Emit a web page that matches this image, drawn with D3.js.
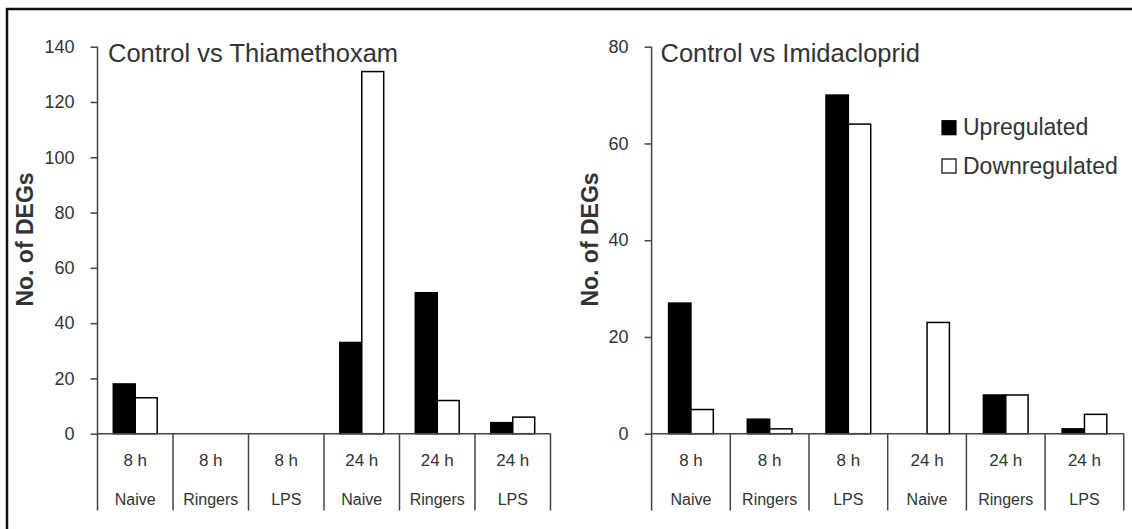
<!DOCTYPE html>
<html><head><meta charset="utf-8">
<script src="https://cdn.jsdelivr.net/npm/d3@7"></script>
<style>
html,body{margin:0;padding:0;background:#fff;}
svg{display:block;}
text{font-family:"Liberation Sans",Arial,sans-serif;fill:#333;}
</style></head>
<body>
<svg id="c" width="1132" height="529"></svg>
<script>
const timeLabels = ["8 h","8 h","8 h","24 h","24 h","24 h"];
const treatmentLabels = ["Naive","Ringers","LPS","Naive","Ringers","LPS"];
const thiaUp = [18,0,0,33,51,4];
const thiaDown = [13,0,0,131,12,6];
const imidaUp = [27,3,70,0,8,1];
const imidaDown = [5,1,64,23,8,4];
const thiaTicks = [0,20,40,60,80,100,120,140];
const imidaTicks = [0,20,40,60,80];
const seriesNames = ["Upregulated","Downregulated"];
const seriesFill = ["#000","#fff"];

const svg = d3.select("#c");
// outer frame (top and left edges visible)
svg.append("line").attr("x1",6).attr("x2",1132).attr("y1",9).attr("y2",9).attr("stroke","#111").attr("stroke-width",2.5);
svg.append("line").attr("x1",7).attr("x2",7).attr("y1",8).attr("y2",529).attr("stroke","#111").attr("stroke-width",2.5);

function panel(opt){
  const g = svg.append("g");
  const x = d3.scaleBand().domain(d3.range(timeLabels.length)).range([opt.x0,opt.x1]).paddingInner(0).paddingOuter(0);
  const inner = d3.scaleBand().domain([0,1]).range([0,x.bandwidth()]).paddingOuter(opt.pad).paddingInner(0);
  const y = d3.scaleLinear().domain([0,opt.max]).range([433.7,46.7]);
  const axisCol = "#444";
  // y axis
  const ya = g.append("g").attr("transform",`translate(${opt.x0},0)`)
    .call(d3.axisLeft(y).tickValues(opt.ticks).tickSize(7).tickPadding(16).tickSizeOuter(0));
  ya.select(".domain").remove();
  ya.selectAll(".tick line").attr("stroke",axisCol).attr("stroke-width",1.5);
  ya.selectAll(".tick text").style("font-size","18px").attr("fill","#333").style("font-family","'Liberation Sans',Arial,sans-serif");
  g.append("line").attr("x1",opt.x0).attr("x2",opt.x0).attr("y1",y(opt.max)).attr("y2",510.5).attr("stroke",axisCol).attr("stroke-width",1.5);
  // bars
  [opt.up,opt.down].forEach((vals,si)=>{
    g.selectAll(null).data(vals.map((v,i)=>({v,i}))).enter()
      .filter(d=>d.v>0)
      .append("rect")
      .attr("x",d=>x(d.i)+inner(si))
      .attr("y",d=>y(d.v))
      .attr("width",inner.bandwidth())
      .attr("height",d=>y(0)-y(d.v))
      .attr("fill",seriesFill[si])
      .attr("stroke","#000").attr("stroke-width",1.5);
  });
  // baseline
  g.append("line").attr("x1",opt.x0).attr("x2",opt.x1).attr("y1",y(0)).attr("y2",y(0)).attr("stroke",axisCol).attr("stroke-width",1.5);
  // category separators
  d3.range(1,timeLabels.length+1).forEach(i=>{
    const xx = i<timeLabels.length ? x(i) : opt.x1;
    g.append("line").attr("x1",xx).attr("x2",xx).attr("y1",y(0)).attr("y2",510.5).attr("stroke",axisCol).attr("stroke-width",1.5);
  });
  // category labels
  g.selectAll(null).data(timeLabels).enter().append("text")
    .attr("x",(d,i)=>x(i)+x.bandwidth()/2).attr("y",466).attr("text-anchor","middle")
    .style("font-size","17px").text(d=>d);
  g.selectAll(null).data(treatmentLabels).enter().append("text")
    .attr("x",(d,i)=>x(i)+x.bandwidth()/2).attr("y",505).attr("text-anchor","middle")
    .style("font-size","16px").text(d=>d);
  // title
  g.append("text").attr("x",opt.titleX).attr("y",61.5).style("font-size","25.5px").attr("fill","#222").text(opt.title);
  // y title
  g.append("text").attr("transform",`translate(${opt.yTitleX},239.5) rotate(-90)`)
    .attr("text-anchor","middle").attr("dy","0.35em").style("font-size","23px").style("font-weight","bold").attr("fill","#222")
    .text("No. of DEGs");
  return {x,y};
}

panel({x0:97.5,x1:550.5,max:140,ticks:thiaTicks,up:thiaUp,down:thiaDown,pad:0.72,
  title:"Control vs Thiamethoxam",titleX:108,yTitleX:25});
panel({x0:651.6,x1:1123.8,max:80,ticks:imidaTicks,up:imidaUp,down:imidaDown,pad:0.76,
  title:"Control vs Imidacloprid",titleX:660.5,yTitleX:590});

// legend
const leg = svg.append("g");
const legY = [120.7,159];
seriesNames.forEach((n,i)=>{
  leg.append("rect").attr("x",942).attr("y",legY[i]).attr("width",14).attr("height",14)
    .attr("fill",seriesFill[i]).attr("stroke","#000").attr("stroke-width",1.2);
  leg.append("text").attr("x",963).attr("y",legY[i]+14.5).style("font-size","23px").attr("fill","#222").text(n);
});
</script>
</body></html>
